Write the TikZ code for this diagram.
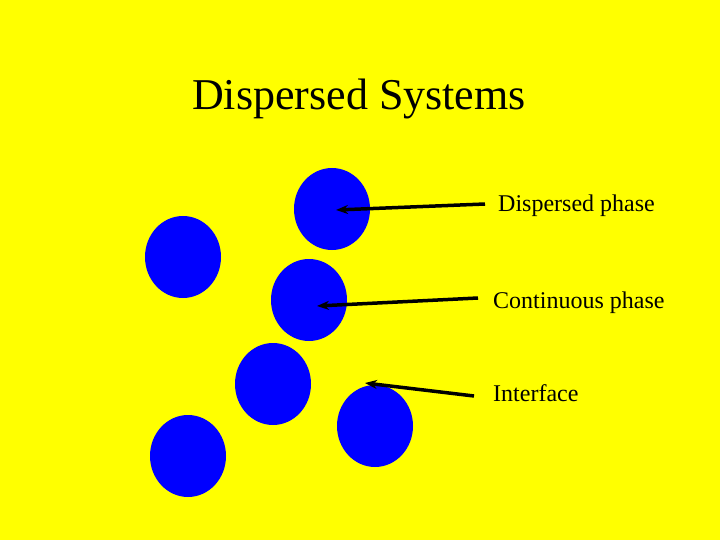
\documentclass[tikz,border=0pt]{standalone}
\usepackage{fontspec}
\setmainfont{Liberation Serif}
\usetikzlibrary{arrows.meta,shapes.geometric}
\definecolor{bgyellow}{RGB}{255,255,0}
\definecolor{dropblue}{RGB}{0,0,255}
\begin{document}
\begin{tikzpicture}[x=1pt,y=-1pt,
  drop/.style={ellipse,fill=dropblue,minimum width=76pt,minimum height=82pt,inner sep=0pt},
  lbl/.style={anchor=west,inner sep=0pt,font=\fontsize{24}{28}\selectfont},
  pointer/.style={line width=3.5pt,-{Stealth[length=12pt,width=9pt]}}]
\fill[bgyellow] (0,0) rectangle (720,540);
\useasboundingbox (0,0) rectangle (720,540);
\node[inner sep=0pt,font=\fontsize{44}{50}\selectfont] (title) at (359,99) {Dispersed Systems};
\node[drop] (d1) at (332,209) {};
\node[drop] (d2) at (183,257) {};
\node[drop] (d3) at (309,300) {};
\node[drop] (d4) at (273,384) {};
\node[drop] (d5) at (375,426) {};
\node[drop] (d6) at (188,456) {};
\node[lbl] (l1) at (498,206) {Dispersed phase};
\node[lbl] (l2) at (493,303) {Continuous phase};
\node[lbl] (l3) at (493,393) {Interface};
\coordinate (t1) at (336,210);
\coordinate (t2) at (317,306);
\coordinate (t3) at (365,383);
\draw[pointer] ([xshift=-13pt,yshift=2pt]l1.west) -- (t1);
\draw[pointer] ([xshift=-15pt,yshift=5pt]l2.west) -- (t2);
\draw[pointer] ([xshift=-19pt,yshift=-3pt]l3.west) -- (t3);
\end{tikzpicture}
\end{document}
